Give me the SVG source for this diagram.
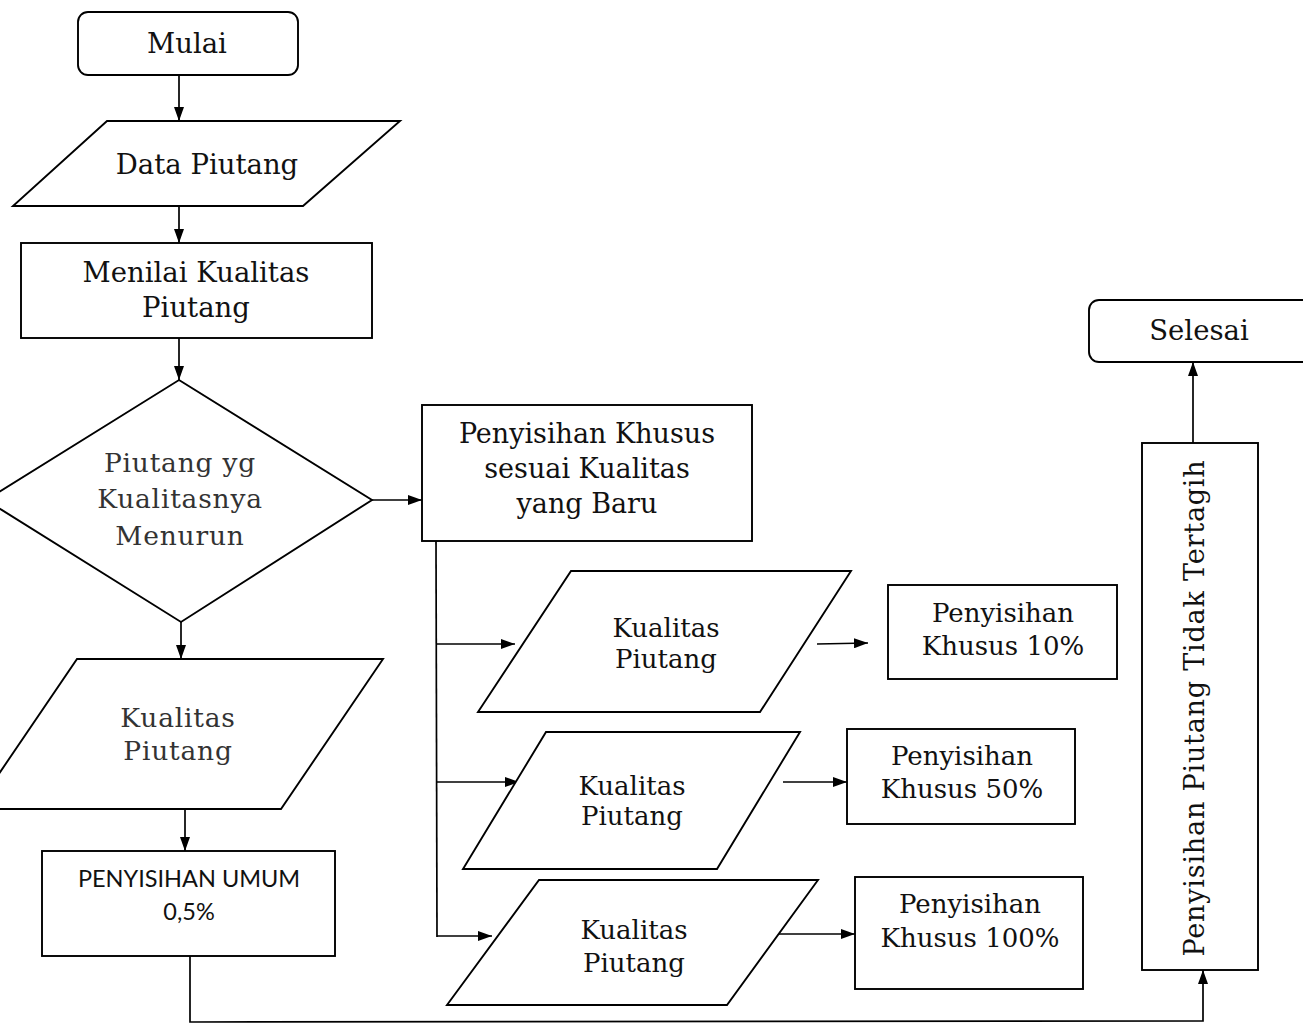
<svg xmlns="http://www.w3.org/2000/svg" width="1303" height="1024" viewBox="0 0 1303 1024">
<defs>
<marker id="ah" viewBox="0 0 14 10" refX="14" refY="5" markerWidth="14" markerHeight="10" markerUnits="userSpaceOnUse" orient="auto">
<path d="M0,0 L14,5 L0,10 Z" fill="#000"/>
</marker>
</defs>
<style>
.s{fill:#fff;stroke:#000;stroke-width:1.9}
.t{font-family:"DejaVu Serif","Liberation Serif",serif;font-size:26px;fill:#111;text-anchor:middle}
.tl{font-family:"DejaVu Serif","Liberation Serif",serif;font-size:27.5px;fill:#111;text-anchor:middle}
.lt{font-family:"DejaVu Serif","Liberation Serif",serif;font-size:26.5px;fill:#333;text-anchor:middle;letter-spacing:0.8px}
.sa{font-family:Lato,"Liberation Sans",sans-serif;font-size:23.5px;fill:#111;text-anchor:middle}
.c{fill:none;stroke:#000;stroke-width:1.7}
.ca{fill:none;stroke:#000;stroke-width:1.7;marker-end:url(#ah)}
</style>
<rect width="1303" height="1024" fill="#fff"/>

<g id="connectors">
<line class="ca" x1="179" y1="76" x2="179" y2="121"/>
<line class="ca" x1="179" y1="198" x2="179" y2="243"/>
<line class="ca" x1="179" y1="338" x2="179" y2="380"/>
<line class="ca" x1="372" y1="500" x2="422" y2="500"/>
<line class="ca" x1="181" y1="622" x2="181" y2="659"/>
<line class="ca" x1="185" y1="805" x2="185" y2="851"/>
<polyline class="ca" points="190,956 190,1022 1203,1021 1203,970"/>
<line class="ca" x1="1193" y1="443" x2="1193" y2="362"/>
<line class="c" x1="436" y1="541" x2="437" y2="937"/>
<line class="ca" x1="436" y1="644" x2="515" y2="644"/>
<line class="ca" x1="436" y1="782" x2="519" y2="782"/>
<line class="ca" x1="437" y1="936" x2="492" y2="936"/>
<line class="ca" x1="817" y1="644" x2="868" y2="643"/>
<line class="ca" x1="783" y1="782" x2="847" y2="782"/>
<line class="ca" x1="776" y1="934" x2="855" y2="934"/>
</g>

<g id="mulai">
<rect class="s" x="78" y="12" width="220" height="63" rx="10"/>
<text class="tl" x="187" y="53">Mulai</text>
</g>

<g id="data-piutang">
<polygon class="s" points="107,121 400,121 303,206 13,206"/>
<text class="tl" x="207" y="174">Data Piutang</text>
</g>

<g id="menilai">
<rect class="s" x="21" y="243" width="351" height="95"/>
<text class="tl" x="196" y="282">Menilai Kualitas</text>
<text class="tl" x="196" y="317">Piutang</text>
</g>

<g id="keputusan">
<polygon class="s" points="179,380 372,500 181,622 -14,500"/>
<text class="lt" x="180" y="472">Piutang yg</text>
<text class="lt" x="180" y="508">Kualitasnya</text>
<text class="lt" x="180" y="545">Menurun</text>
</g>

<g id="penyisihan-khusus">
<rect class="s" x="422" y="405" width="330" height="136"/>
<text class="t" style="font-size:27px" x="587" y="443">Penyisihan Khusus</text>
<text class="t" style="font-size:27px" x="587" y="478">sesuai Kualitas</text>
<text class="t" style="font-size:27px" x="587" y="513">yang Baru</text>
</g>

<g id="kualitas-kiri">
<polygon class="s" points="77,659 383,659 281,809 -25,809"/>
<text class="lt" x="178" y="727">Kualitas</text>
<text class="lt" x="178" y="760">Piutang</text>
</g>

<g id="penyisihan-umum">
<rect class="s" x="42" y="851" width="293" height="105"/>
<text class="sa" x="189" y="887">PENYISIHAN UMUM</text>
<text class="sa" x="189" y="920">0,5%</text>
</g>

<g id="kualitas-1">
<polygon class="s" points="571,571 851,571 760,712 478,712"/>
<text class="t" x="666" y="637">Kualitas</text>
<text class="t" x="666" y="668">Piutang</text>
</g>

<g id="kualitas-2">
<polygon class="s" points="546,732 800,732 717,869 463,869"/>
<text class="t" x="632" y="795">Kualitas</text>
<text class="t" x="632" y="825">Piutang</text>
</g>

<g id="kualitas-3">
<polygon class="s" points="539,880 818,880 727,1005 447,1005"/>
<text class="t" x="634" y="939">Kualitas</text>
<text class="t" x="634" y="972">Piutang</text>
</g>

<g id="khusus-10">
<rect class="s" x="888" y="585" width="229" height="94"/>
<text class="t" x="1003" y="622">Penyisihan</text>
<text class="t" x="1003" y="655">Khusus 10%</text>
</g>

<g id="khusus-50">
<rect class="s" x="847" y="729" width="228" height="95"/>
<text class="t" x="962" y="765">Penyisihan</text>
<text class="t" x="962" y="798">Khusus 50%</text>
</g>

<g id="khusus-100">
<rect class="s" x="855" y="877" width="228" height="112"/>
<text class="t" x="970" y="913">Penyisihan</text>
<text class="t" x="970" y="947">Khusus 100%</text>
</g>

<g id="tidak-tertagih">
<rect class="s" x="1142" y="443" width="116" height="527"/>
<text class="t" style="font-size:27px;letter-spacing:0.8px" transform="translate(1204,708) rotate(-90)" x="0" y="0">Penyisihan Piutang Tidak Tertagih</text>
</g>

<g id="selesai">
<rect class="s" x="1089" y="300" width="230" height="62" rx="10"/>
<text class="tl" x="1199" y="340">Selesai</text>
</g>
</svg>
